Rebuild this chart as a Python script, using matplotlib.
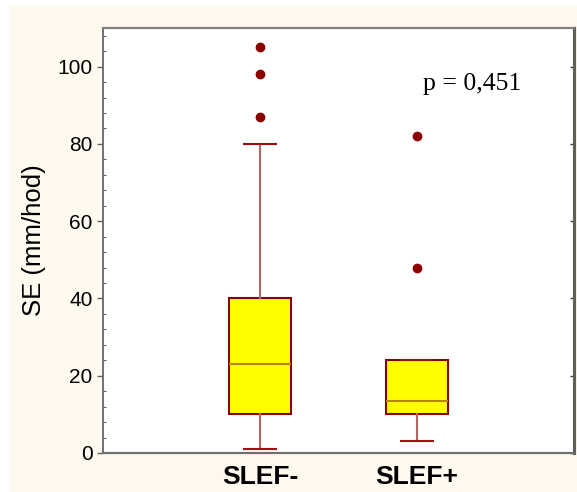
import matplotlib
matplotlib.use("Agg")
import matplotlib.pyplot as plt
from matplotlib.patches import Rectangle
from matplotlib.ticker import MultipleLocator

# Sedimentation rate (SE) summary per group
groups = ["SLEF-", "SLEF+"]
whisker_low = [1, 3]
q1 = [10, 10]
median = [23, 13.5]
q3 = [40, 24]
whisker_high = [80, 24]
outliers = [[87, 98, 105], [48, 82]]
p_text = "p = 0,451"

SANS = ["Liberation Sans", "DejaVu Sans"]

fig = plt.figure(figsize=(5.77, 4.92), dpi=100)
fig.patch.set_facecolor("white")
fig.add_artist(Rectangle((10 / 577, 0), 567 / 577, 486 / 492,
                         transform=fig.transFigure, facecolor="#FEF9EE",
                         edgecolor="none", zorder=0))

ax = fig.add_axes([103 / 577, 39 / 492, 471 / 577, 425 / 492])
ax.set_facecolor("white")

stats = []
for i, g in enumerate(groups):
    stats.append(dict(label=g, whislo=whisker_low[i], q1=q1[i], med=median[i],
                      q3=q3[i], whishi=whisker_high[i], fliers=outliers[i]))

ax.bxp(stats, positions=[1, 2], widths=0.4, patch_artist=True,
       boxprops=dict(facecolor="#FFFF00", edgecolor="#8B0000", linewidth=1.5),
       medianprops=dict(color="#B8860B", linewidth=1.5),
       whiskerprops=dict(color="#B86464", linewidth=1.5),
       capprops=dict(color="#A01010", linewidth=1.5),
       capwidths=0.2,
       flierprops=dict(marker="o", markerfacecolor="#8B0000",
                       markeredgecolor="#8B0000", markersize=6))

ax.set_xlim(0, 3)
ax.set_ylim(0, 110)
ax.set_xticks([1, 2])
ax.set_xticklabels(groups, fontsize=19, fontweight="bold", family=SANS)
ax.tick_params(axis="x", length=0, pad=9)

ax.yaxis.set_major_locator(MultipleLocator(20))
ax.yaxis.set_minor_locator(MultipleLocator(4))
ax.tick_params(axis="y", which="major", direction="out", length=4,
               width=1, color="#606060", labelsize=15)
ax.tick_params(axis="y", which="minor", direction="in", length=2,
               width=0.8, color="#606060")
for lab in ax.get_yticklabels():
    lab.set_family(SANS)

ax.set_ylabel("SE (mm/hod)", fontsize=18.5, family=SANS, labelpad=8)

# Right-side major ticks pointing inward
axr = ax.twinx()
axr.set_ylim(ax.get_ylim())
axr.yaxis.set_major_locator(MultipleLocator(20))
axr.tick_params(axis="y", direction="in", length=3, width=1,
                color="#404040", labelright=False)

for a in (ax, axr):
    a.spines["left"].set_color("#707070")
    a.spines["top"].set_color("#808080")
    a.spines["bottom"].set_color("#707070")
    a.spines["right"].set_color("#606058")
    a.spines["right"].set_linewidth(2.2)
    a.spines["left"].set_linewidth(1.2)
    a.spines["top"].set_linewidth(1.5)
    a.spines["bottom"].set_linewidth(1.5)

ax.text(2.04, 95.6, p_text, fontsize=18.5, va="center", ha="left",
        family=["Liberation Serif", "DejaVu Serif"])

fig.savefig("out.png", dpi=100)
